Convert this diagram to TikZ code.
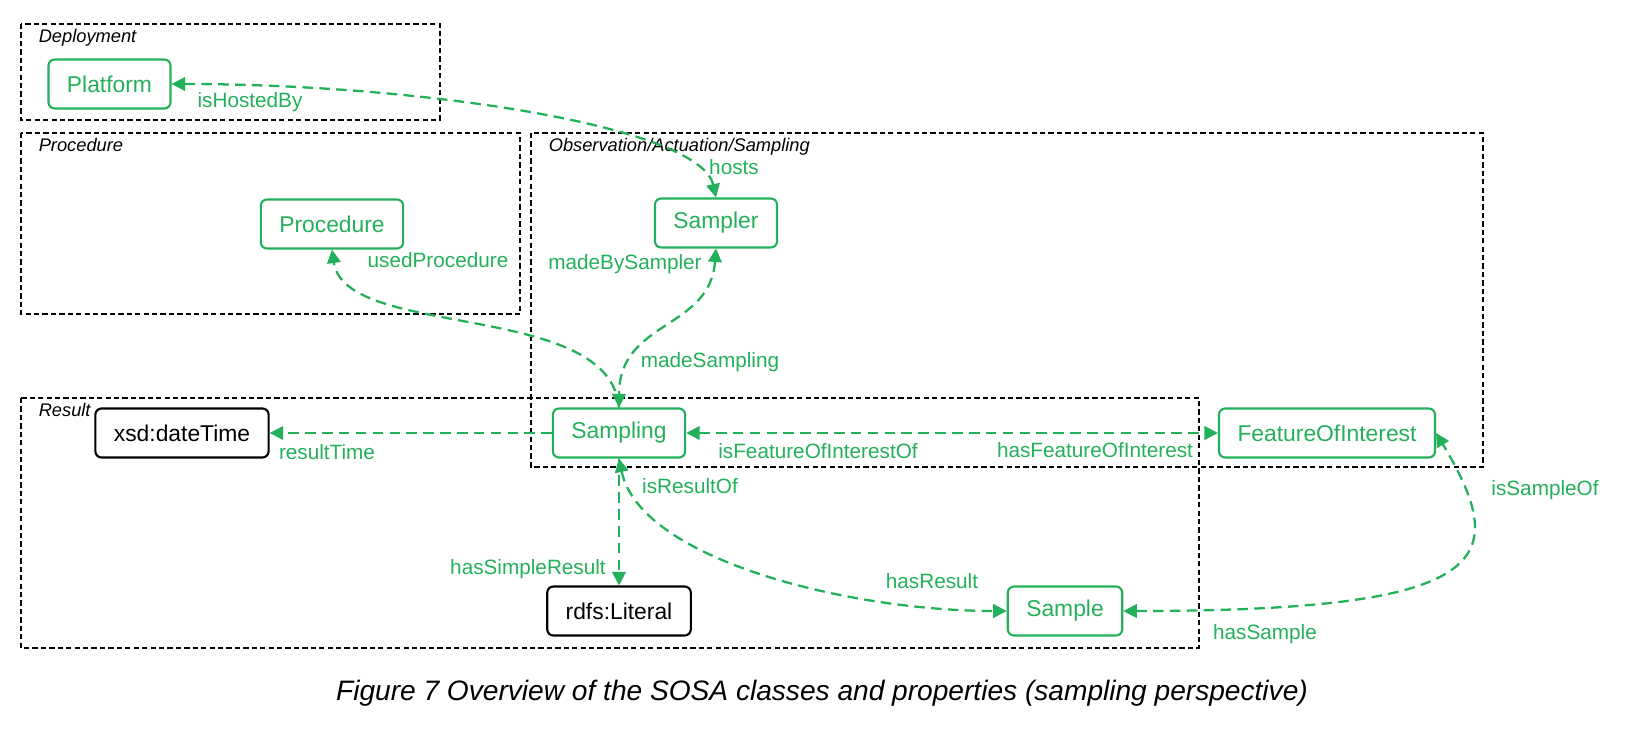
\documentclass[tikz,border=0pt]{standalone}
\usepackage{fontspec}
\setmainfont{Liberation Sans}
\usetikzlibrary{arrows.meta}
\definecolor{sosagreen}{RGB}{35,176,90}
\tikzset{
    cls/.style={draw=sosagreen, text=sosagreen, line width=1.2pt, rounded corners=3.5pt,
        inner xsep=0.37cm, minimum height=0.98cm, font=\fontsize{13}{15}\selectfont},
    lit/.style={cls, draw=black, text=black},
    link/.style={draw=sosagreen, line width=1.3pt, dash pattern=on 6pt off 3.6pt,
        >={Triangle[length=0.27cm,width=0.27cm]}},
    lbl/.style={text=sosagreen, inner sep=0pt, font=\fontsize{11.8}{14}\selectfont},
    grp/.style={draw=black, line width=0.9pt, dash pattern=on 3pt off 1.8pt},
    grplbl/.style={anchor=base west, inner sep=0pt, font=\fontsize{10.4}{12}\selectfont\itshape},
}
\begin{document}
\begin{tikzpicture}[x=0.02cm, y=-0.02cm]
        \useasboundingbox (0,0) rectangle (1636,736);

        \foreach \xa/\ya/\xb/\yb/\gname in {21/24/440/120/{Deployment}, 21/133/520/314/{Procedure},
                531/133/1483/467/{Observation/Actuation/Sampling}, 21/398/1199/648/{Result}}
            \draw[grp] (\xa,\ya) rectangle (\xb,\yb) node[grplbl] at (\xa+17,\ya+19) {\gname};

        \node[cls] (platform) at (109.5,84) {Platform};
        \node[cls] (procedure) at (332,224) {Procedure};
        \node[cls] (sampler) at (716,223) {Sampler};
        \node[lit] (datetime) at (182,433) {xsd:dateTime};
        \node[cls] (sampling) at (619,433) {Sampling};
        \node[cls] (foi) at (1327,433) {FeatureOfInterest};
        \node[lit] (literal) at (619,611) {rdfs:Literal};
        \node[cls] (sample) at (1065,611) {Sample};

        \draw[link, <->] (platform.east) .. controls (420,84) and (700,126) .. (sampler.north)
            node[lbl] at (250,102) {isHostedBy}
            node[lbl] at (734,167) {hosts};
        \draw[link, ->] (sampling.north) .. controls (610,300) and (345,340) .. (procedure.south)
            node[lbl] at (438,260) {usedProcedure};
        \draw[link, <->] (sampler.south) .. controls (710,330) and (619,320) .. (sampling.north)
            node[lbl] at (625,264) {madeBySampler}
            node[lbl] at (710,362) {madeSampling};
        \draw[link, ->] (sampling.west) -- (datetime.east)
            node[lbl] at (327,452) {resultTime};
        \draw[link, <->] (sampling.east) -- (foi.west)
            node[lbl] at (818,451) {isFeatureOfInterestOf}
            node[lbl] at (1095,450) {hasFeatureOfInterest};
        \draw[link, ->] (sampling.south) -- (literal.north)
            node[lbl] at (528,569) {hasSimpleResult};
        \draw[link, <->] (sampling.south) .. controls (640,560) and (850,611) .. (sample.west)
            node[lbl] at (690,486) {isResultOf}
            node[lbl] at (932,581) {hasResult};
        \draw[link, <->] (sample.east) .. controls (1495,611) and (1512,560) .. (foi.east)
            node[lbl] at (1265,634) {hasSample}
            node[lbl] at (1545,490) {isSampleOf};

        \node[anchor=base, font=\fontsize{16}{19}\selectfont\itshape] (caption) at (822,700)
            {Figure 7 Overview of the SOSA classes and properties (sampling perspective)};
    \end{tikzpicture}
\end{document}
